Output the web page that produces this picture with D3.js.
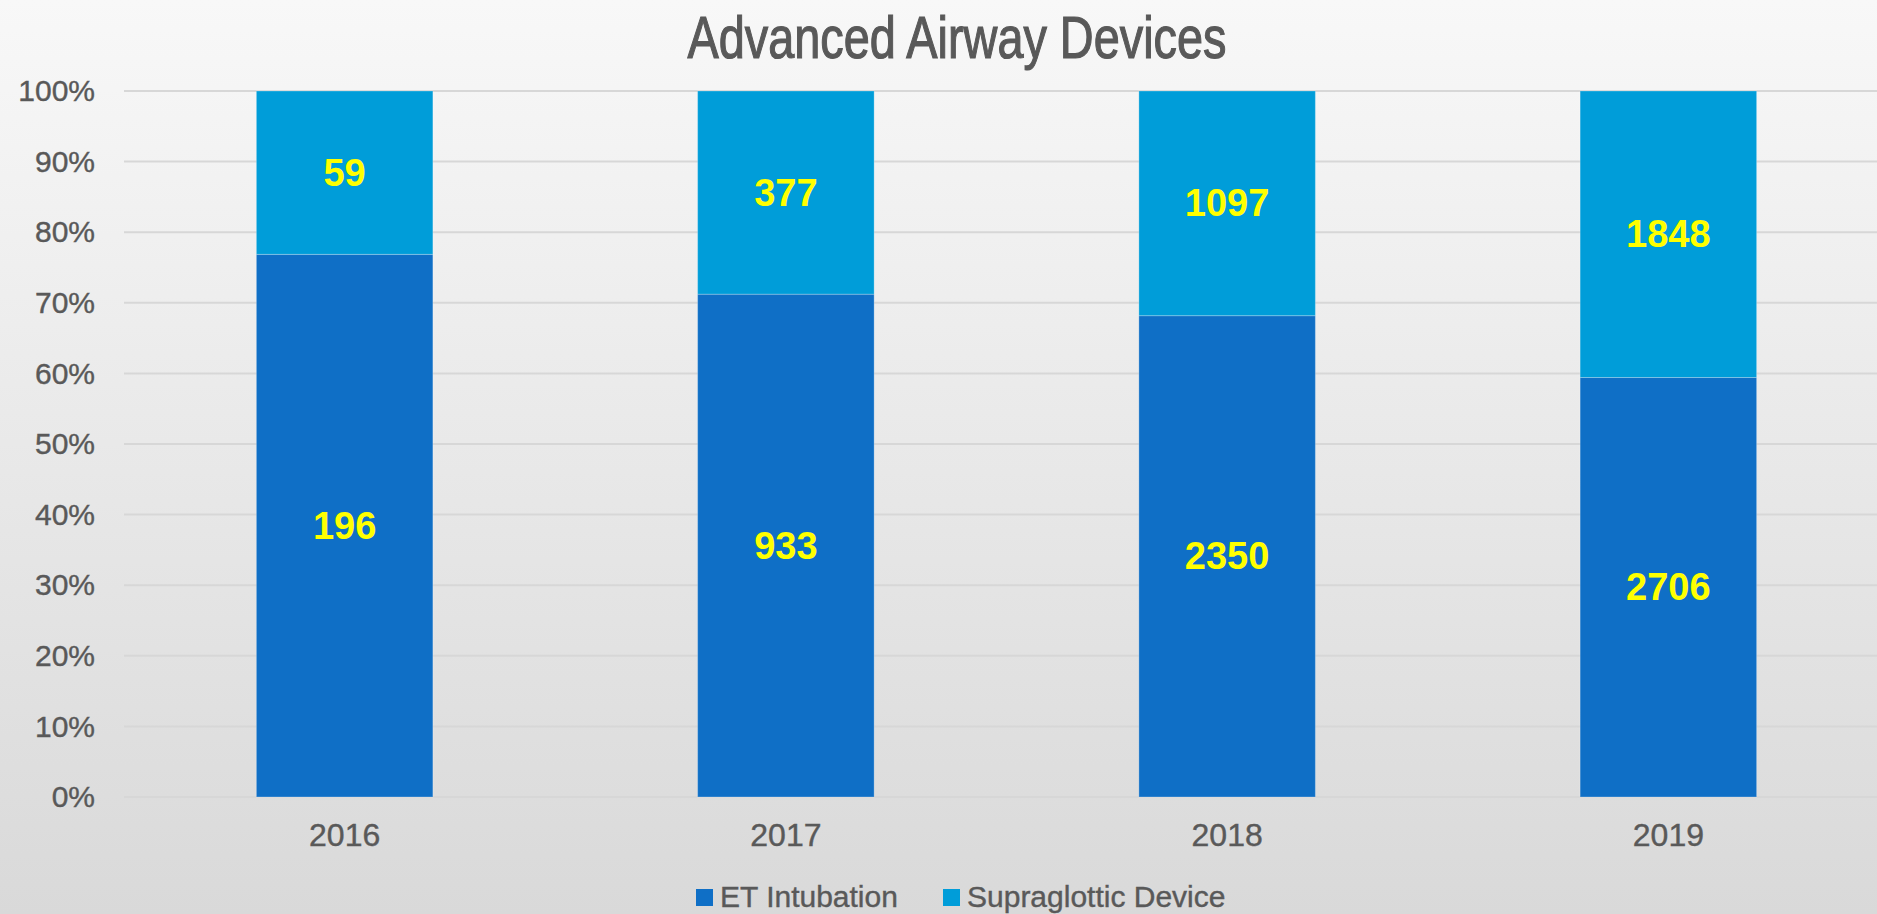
<!DOCTYPE html>
<html>
<head>
<meta charset="utf-8">
<script src="https://cdn.jsdelivr.net/npm/d3@7"></script>
<style>
  html, body { margin: 0; padding: 0; overflow: hidden; }
  body { width: 1877px; height: 914px; }
</style>
</head>
<body>
<div id="chart"></div>
<script>
// DATA
let years = ["2016", "2017", "2018", "2019"];
let etIntubation = [196, 933, 2350, 2706];
let supraglottic = [59, 377, 1097, 1848];
let seriesNames = ["ET Intubation", "Supraglottic Device"];
let seriesColors = ["#0F6FC6", "#009DD9"];
let yTicks = [0, 0.1, 0.2, 0.3, 0.4, 0.5, 0.6, 0.7, 0.8, 0.9, 1];

// CHART AREA
let width = 1877, height = 914;
let margin = {top: 91, right: -12, bottom: 117, left: 124};
let font = "'Liberation Sans', Arial, sans-serif";

let svg = d3.select("#chart").append("svg")
    .attr("width", width)
    .attr("height", height);

// background gradient
let grad = svg.append("defs").append("linearGradient")
    .attr("id", "bg")
    .attr("x1", 0).attr("y1", 0).attr("x2", 0).attr("y2", 1);
grad.append("stop").attr("offset", "0%").attr("stop-color", "#f8f8f8");
grad.append("stop").attr("offset", "100%").attr("stop-color", "#d9d9d9");

svg.append("rect")
    .attr("width", width)
    .attr("height", height)
    .attr("fill", "url(#bg)");

// table for the stack
let table = years.map((y, i) => ({year: y, et: etIntubation[i], sgd: supraglottic[i]}));
let stacked = d3.stack().keys(["et", "sgd"]).offset(d3.stackOffsetExpand)(table);

// SCALES
let x = d3.scaleBand()
    .domain(years)
    .range([margin.left, width - margin.right])
    .paddingInner(0.6)
    .paddingOuter(0.3);

let y = d3.scaleLinear()
    .domain([0, 1])
    .range([height - margin.bottom, margin.top]);

// gridlines
svg.append("g")
    .selectAll("line")
    .data(yTicks)
    .join("line")
    .attr("x1", margin.left)
    .attr("x2", width)
    .attr("y1", d => y(d))
    .attr("y2", d => y(d))
    .attr("stroke", "#d7d7d7")
    .attr("stroke-width", 2);

// y axis
let yAxis = d3.axisLeft(y)
    .tickValues(yTicks)
    .tickFormat(d3.format(".0%"))
    .tickSize(0)
    .tickPadding(0);

let yAxisGroup = svg.append("g")
    .attr("transform", "translate(95,0)")
    .call(yAxis);
yAxisGroup.select(".domain").remove();
yAxisGroup.selectAll("text")
    .attr("font-family", font)
    .attr("font-size", 30)
    .attr("fill", "#595959")
    .attr("stroke", "#595959")
    .attr("stroke-width", 0.4);

// x axis
let xAxis = d3.axisBottom(x).tickSize(0).tickPadding(0);
let xAxisGroup = svg.append("g")
    .attr("transform", "translate(0," + (height - margin.bottom + 26) + ")")
    .call(xAxis);
xAxisGroup.select(".domain").remove();
xAxisGroup.selectAll("text")
    .attr("font-family", font)
    .attr("font-size", 32)
    .attr("fill", "#595959")
    .attr("stroke", "#595959")
    .attr("stroke-width", 0.4);

// ---- DRAW BARS ----
let layers = svg.append("g")
    .selectAll("g")
    .data(stacked)
    .join("g")
    .attr("fill", (d, i) => seriesColors[i]);

layers.selectAll("rect")
    .data(d => d)
    .join("rect")
    .attr("x", d => x(d.data.year))
    .attr("y", d => y(d[1]))
    .attr("width", x.bandwidth())
    .attr("height", d => y(d[0]) - y(d[1]))
    .attr("stroke", "rgba(255,255,255,0.25)")
    .attr("stroke-width", 1);

// value labels
layers.selectAll("text")
    .data(d => d.map(v => ({v: v, key: d.key})))
    .join("text")
    .attr("x", d => x(d.v.data.year) + x.bandwidth() / 2)
    .attr("y", d => (y(d.v[0]) + y(d.v[1])) / 2)
    .attr("text-anchor", "middle")
    .attr("dominant-baseline", "central")
    .attr("font-family", font)
    .attr("font-weight", "bold")
    .attr("font-size", 38)
    .attr("fill", "#FFFF00")
    .text(d => d.v.data[d.key]);

// title
svg.append("text")
    .attr("x", 957)
    .attr("y", 58)
    .attr("text-anchor", "middle")
    .attr("font-family", font)
    .attr("font-size", 59)
    .attr("fill", "#595959")
    .attr("stroke", "#595959")
    .attr("stroke-width", 1.2)
    .attr("textLength", 539)
    .attr("lengthAdjust", "spacingAndGlyphs")
    .text("Advanced Airway Devices");

// legend
let legendX = [696, 943];
let legend = svg.append("g")
    .selectAll("g")
    .data(seriesNames)
    .join("g")
    .attr("transform", (d, i) => "translate(" + legendX[i] + ",889)");

legend.append("rect")
    .attr("width", 17)
    .attr("height", 17)
    .attr("fill", (d, i) => seriesColors[i]);

legend.append("text")
    .attr("x", 24)
    .attr("y", 18)
    .attr("font-family", font)
    .attr("font-size", 30)
    .attr("fill", "#595959")
    .attr("stroke", "#595959")
    .attr("stroke-width", 0.4)
    .text(d => d);
</script>
</body>
</html>
